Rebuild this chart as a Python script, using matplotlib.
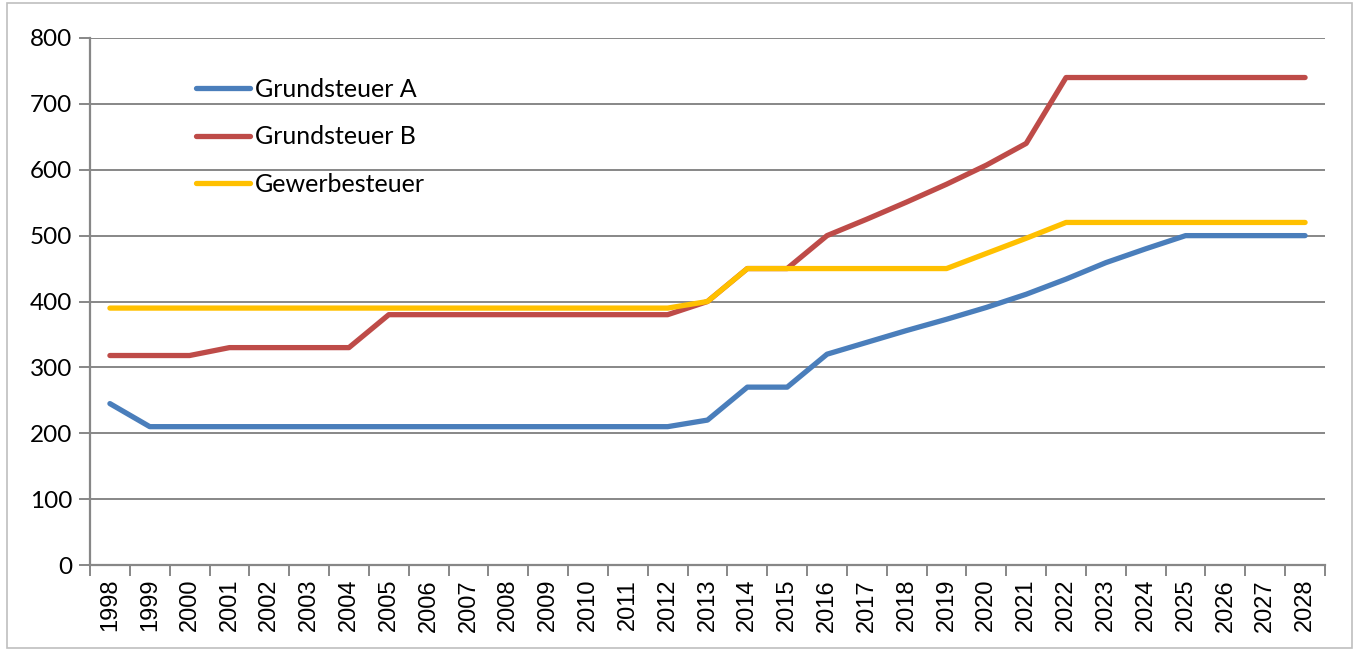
import matplotlib.pyplot as plt
from matplotlib.patches import Rectangle
import numpy as np

# Jahre (Kategorien)
years = [str(y) for y in range(1998, 2029)]

# Hebesätze
grundsteuer_a = [245, 210, 210, 210, 210, 210, 210, 210, 210, 210, 210, 210, 210, 210, 210,
                 220, 270, 270, 320, 338, 356, 373, 391, 411, 434, 459, 480, 500, 500, 500, 500]
grundsteuer_b = [318, 318, 318, 330, 330, 330, 330, 380, 380, 380, 380, 380, 380, 380, 380,
                 400, 450, 450, 500, 525, 551, 578, 607, 640, 740, 740, 740, 740, 740, 740, 740]
gewerbesteuer = [390, 390, 390, 390, 390, 390, 390, 390, 390, 390, 390, 390, 390, 390, 390,
                 400, 450, 450, 450, 450, 450, 450, 473, 496, 520, 520, 520, 520, 520, 520, 520]

series = [
    ("Grundsteuer A", grundsteuer_a, "#4A7EBB"),
    ("Grundsteuer B", grundsteuer_b, "#BE4B48"),
    ("Gewerbesteuer", gewerbesteuer, "#FFC000"),
]

grid_color = "#878787"
label_font = ["Lato", "DejaVu Sans"]

fig = plt.figure(figsize=(13.55, 6.52), dpi=100)
ax = fig.add_axes([90 / 1355, 1 - 565 / 652, 1235 / 1355, 527 / 652])

x = np.arange(len(years))
for name, vals, color in series:
    ax.plot(x, vals, color=color, lw=3.8, label=name,
            solid_capstyle="round", solid_joinstyle="round", zorder=3)

# Achsen
ax.set_xlim(-0.5, len(years) - 0.5)
ax.set_ylim(0, 800)
ax.set_yticks(range(0, 801, 100))
ax.set_xticks(x)
ax.set_xticklabels(years, rotation=90, fontsize=17, family=["Liberation Sans", "DejaVu Sans"])
ax.set_xticks(np.arange(-0.5, len(years), 1), minor=True)
ax.tick_params(axis="x", which="major", length=0, pad=10)
ax.tick_params(axis="x", which="minor", length=8, width=1.4, color=grid_color)
ax.tick_params(axis="y", length=8, width=1.4, color=grid_color, pad=5)
for lab in ax.get_yticklabels():
    lab.set_fontsize(17.5)
    lab.set_family(label_font)

ax.grid(axis="y", color=grid_color, lw=1.4, zorder=1)
ax.set_axisbelow(True)
for side in ["top", "right"]:
    ax.spines[side].set_visible(False)
for side in ["left", "bottom"]:
    ax.spines[side].set_color(grid_color)
    ax.spines[side].set_linewidth(1.6)

leg = ax.legend(loc="upper left", bbox_to_anchor=(196 / 1355, 1 - 78 / 652),
                bbox_transform=fig.transFigure, frameon=False, borderpad=0,
                borderaxespad=0, handlelength=2.16, handletextpad=0.2,
                labelspacing=0.97, prop={"family": label_font, "size": 18})

# Rahmen um das Diagramm
fig.patches.append(Rectangle((7 / 1355, 1 - 648 / 652), 1345 / 1355, 645 / 652,
                             transform=fig.transFigure, fill=False,
                             edgecolor="#BFBFBF", lw=1.2))

fig.savefig("out.png", dpi=100)
